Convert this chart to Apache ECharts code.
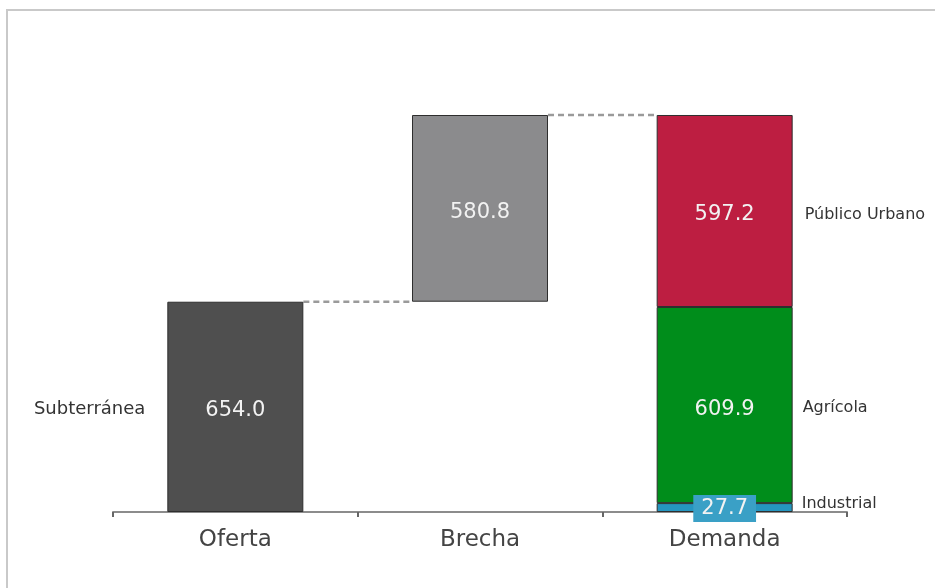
<!DOCTYPE html>
<html>
<head>
<meta charset="utf-8">
<script src="https://cdn.jsdelivr.net/npm/echarts@6/dist/echarts.min.js"></script>
<style>
  html, body { margin: 0; padding: 0; background: #fff; }
  #chart { width: 935px; height: 588px; }
</style>
</head>
<body>
<div id="chart"></div>
<script>
// Water balance (hm³): supply vs. demand, with the gap between them
const categories = ['Oferta', 'Brecha', 'Demanda'];
const oferta = 654.0;          // Subterránea
const brecha = 580.8;
const industrial = 27.7;
const agricola = 609.9;
const publicoUrbano = 597.2;

const FONT = '"DejaVu Sans", sans-serif';
const BAR_W = 136;
const total = oferta + brecha;

const valueLabel = {
  show: true,
  position: 'inside',
  offset: [0, 4],
  color: '#f2f2f2',
  fontFamily: FONT,
  fontSize: 21,
  formatter: p => Number(p.value).toFixed(1)
};
const outline = { borderColor: '#2e2e2e', borderWidth: 1 };

function barSeries(name, data, color, extraLabel) {
  return {
    name, type: 'bar', stack: 'values', data,
    barWidth: BAR_W, barGap: '-100%',
    itemStyle: Object.assign({ color }, outline),
    label: Object.assign({}, valueLabel, extraLabel || {}),
    z: 2
  };
}

// Transparent twin bars that only carry the side captions
function captionSeries(text, data, position, distance, offset) {
  return {
    name: text + ' ', type: 'bar', stack: 'captions', data,
    barWidth: BAR_W, barGap: '-100%',
    itemStyle: { color: 'rgba(0,0,0,0)', borderWidth: 0 },
    label: {
      show: true, position, distance, offset: offset || [0, 0],
      formatter: text, color: '#333', fontFamily: FONT,
      fontSize: text === 'Subterránea' ? 18 : 16
    },
    silent: true, z: 3
  };
}

const chart = echarts.init(document.getElementById('chart'), null, { renderer: 'canvas' });

chart.setOption({
  animation: false,
  backgroundColor: '#ffffff',
  graphic: [{
    type: 'rect',
    shape: { x: 7, y: 10, width: 1000, height: 700 },
    style: { fill: 'none', stroke: '#c9c9c9', lineWidth: 2 },
    z: -1
  }],
  grid: { left: 113, right: 88, top: 115, bottom: 76 },
  xAxis: {
    type: 'category',
    data: categories,
    axisLine: { lineStyle: { color: '#8c8c8c', width: 2 } },
    axisTick: { show: true, length: 5, lineStyle: { color: '#666', width: 2 } },
    axisLabel: { color: '#444', fontFamily: FONT, fontSize: 23, margin: 17 }
  },
  yAxis: {
    type: 'value', min: 0, max: total, show: false,
    splitLine: { show: false }
  },
  series: [
    // invisible base that lifts the gap bar
    {
      name: 'base', type: 'bar', stack: 'values',
      data: ['-', oferta, '-'], barWidth: BAR_W, barGap: '-100%',
      itemStyle: { color: 'rgba(0,0,0,0)', borderWidth: 0 }, silent: true
    },
    barSeries('Subterránea', [oferta, '-', '-'], '#4f4f4f'),
    barSeries('Brecha', ['-', brecha, '-'], '#8b8b8d'),
    barSeries('Industrial', ['-', '-', industrial], '#2596c0', {
      backgroundColor: '#3aa0c6', padding: [3, 8], fontSize: 21, offset: [0, 1]
    }),
    barSeries('Agrícola', ['-', '-', agricola], '#008d1b'),
    barSeries('Público Urbano', ['-', '-', publicoUrbano], '#bd1e41'),

    captionSeries('Subterránea', [oferta, '-', '-'], 'left', 22, [0, 2]),
    captionSeries('Industrial', ['-', '-', industrial], 'right', 9, [0, -4]),
    captionSeries('Agrícola', ['-', '-', agricola], 'right', 10, [0, 3]),
    captionSeries('Público Urbano', ['-', '-', publicoUrbano], 'right', 12, [0, 4]),

    // dashed connectors between consecutive bar tops
    {
      name: 'connectors', type: 'custom',
      data: [[0, oferta], [1, total]],
      renderItem(params, api) {
        const p = api.coord([api.value(0), api.value(1)]);
        const band = api.size([1, 0])[0];
        return {
          type: 'line',
          shape: { x1: p[0] + BAR_W / 2, y1: p[1], x2: p[0] + band - BAR_W / 2, y2: p[1] },
          style: { stroke: '#9a9a9a', lineWidth: 2.5, lineDash: [6, 4] }
        };
      },
      silent: true, z: 1
    }
  ]
});
</script>
</body>
</html>
